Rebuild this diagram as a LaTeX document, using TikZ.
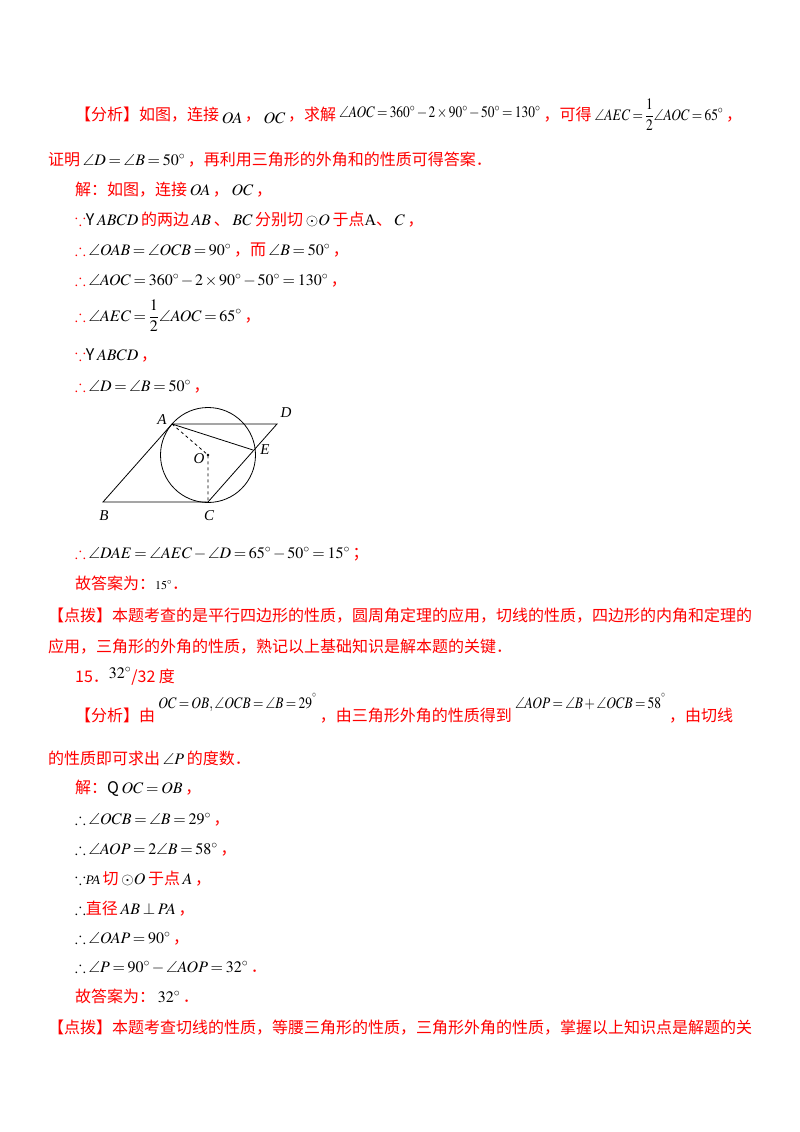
\documentclass[tikz,border=0pt]{standalone}
\usepackage{fontspec}
\usepackage{amssymb}
\usepackage{mathptmx}
\usepackage{graphicx}
\setmainfont{Noto Sans CJK SC}
\newfontfamily\tms{Liberation Serif}
\newcommand\rd[1]{\textcolor{red}{#1}}
\newcommand\dg{^\circ}
\newcommand\m[1]{\,$#1$\,}
\newcommand\nm[1]{\scalebox{0.84}[1]{$#1$}}
\thickmuskip=3mu plus 1mu
\medmuskip=2mu plus 1mu
\begin{document}
\begin{tikzpicture}[x=1pt,y=-1pt,
  ln/.style={anchor=base west,inner sep=0,font=\fontsize{16}{19}\selectfont},
  pt/.style={inner sep=0,font=\fontsize{15}{16}\selectfont\tms\itshape},
  geo/.style={line width=0.8pt}]
\fill[white] (0,0) rectangle (800,1132);
\useasboundingbox (0,0) rectangle (800,1132);
\node[ln] (l1a) at (75,120) {\rd{【分析】如图，连接}\raisebox{-3pt}{\m{OA}}\rd{，}\raisebox{-3pt}{\m{OC}}\rd{，求解}\,};
\node[ln,yshift=3pt] (l1b) at (l1a.base east) {\nm{\angle AOC=360\dg-2\times90\dg-50\dg=130\dg}};
\node[ln,yshift=-3pt] (l1c) at (l1b.base east) {\,\rd{，可得}\,};
\node[ln] (l1d) at (l1c.base east) {\nm{\displaystyle\angle AEC=\frac12\angle AOC=65\dg}\,\rd{，}};
\node[ln] (l2) at (48,165) {\rd{证明}\m{\angle D=\angle B=50\dg}\rd{，再利用三角形的外角和的性质可得答案．}};
\node[ln] (l3) at (75,195) {\rd{解：如图，连接}\m{OA}\rd{，}\m{OC}\rd{，}};
\node[ln] (l4) at (75,225) {\rd{$\because$}Y\m{ABCD}\rd{的两边}\m{AB}\rd{、}\m{BC}\rd{分别切}\m{\odot O}\rd{于点}{\tms A}\rd{、}\m{C}\rd{，}};
\node[ln] (l5) at (75,255) {\rd{$\therefore$}\m{\angle OAB=\angle OCB=90\dg}\rd{，而}\m{\angle B=50\dg}\rd{，}};
\node[ln] (l6) at (75,285) {\rd{$\therefore$}\m{\angle AOC=360\dg-2\times90\dg-50\dg=130\dg}\rd{，}};
\node[ln] (l7) at (75,321) {\rd{$\therefore$}\m{\displaystyle\angle AEC=\frac12\angle AOC=65\dg}\rd{，}};
\node[ln] (l8) at (75,360) {\rd{$\because$}Y\m{ABCD}\rd{，}};
\node[ln] (l9) at (75,391) {\rd{$\therefore$}\m{\angle D=\angle B=50\dg}\rd{，}};
% figure
\coordinate (A) at (172,424);
\coordinate (D) at (277,424);
\coordinate (B) at (103,502);
\coordinate (C) at (208,502);
\coordinate (O) at (208,455);
\coordinate (E) at (253,450);
\draw[geo] (O) circle (47.5);
\draw[geo] (A) -- (D) -- (C) -- (B) -- cycle;
\draw[geo] (A) -- (E);
\draw[geo,dashed] (A) -- (O) -- (C);
\fill (O) circle (1.3);
\node[pt] (nA) at (162,420) {A};
\node[pt] (nD) at (286,413) {D};
\node[pt] (nE) at (265,450) {E};
\node[pt] (nO) at (199,459) {O};
\node[pt] (nB) at (104,516) {B};
\node[pt] (nC) at (209,516) {C};
\node[ln] (l10) at (75,558) {\rd{$\therefore$}\m{\angle DAE=\angle AEC-\angle D=65\dg-50\dg=15\dg}\rd{；}};
\node[ln] (l11) at (75,589) {\rd{故答案为：}{\fontsize{12}{14}\selectfont$15\dg$}\rd{．}};
\node[ln] (l12) at (48,621) {\rd{【点拨】本题考查的是平行四边形的性质，圆周角定理的应用，切线的性质，四边形的内角和定理的}};
\node[ln] (l13) at (48,652) {\rd{应用，三角形的外角的性质，熟记以上基础知识是解本题的关键．}};
\node[ln] (l14) at (75,682) {\rd{15．}\raisebox{4pt}{$32\dg$}\rd{/32 度}};
\node[ln] (l15a) at (75,721) {\rd{【分析】由}\,};
\node[ln,yshift=13pt] (l15b) at (l15a.base east) {\nm{OC=OB,\angle OCB=\angle B=29^{^\circ}}};
\node[ln,yshift=-13pt] (l15c) at (l15b.base east) {\,\rd{，由三角形外角的性质得到}\,};
\node[ln,yshift=13pt] (l15d) at (l15c.base east) {\nm{\angle AOP=\angle B+\angle OCB=58^{^\circ}}};
\node[ln,yshift=-13pt] (l15e) at (l15d.base east) {\,\rd{，由切线}};
\node[ln] (l16) at (48,764) {\rd{的性质即可求出}\m{\angle P}\rd{的度数．}};
\node[ln] (l17) at (75,793) {\rd{解：}Q\m{OC=OB}\rd{，}};
\node[ln] (l18) at (75,824) {$\therefore$\m{\angle OCB=\angle B=29\dg}\rd{，}};
\node[ln] (l19) at (75,854) {$\therefore$\m{\angle AOP=2\angle B=58\dg}\rd{，}};
\node[ln] (l20) at (75,884) {$\because${\fontsize{13}{14}\selectfont\tms\itshape PA}\,\rd{切}\m{\odot O}\rd{于点}\m{A}\rd{，}};
\node[ln] (l21) at (75,914) {$\therefore$\rd{直径}\m{AB\perp PA}\rd{，}};
\node[ln] (l22) at (75,943) {$\therefore$\m{\angle OAP=90\dg}\rd{，}};
\node[ln] (l23) at (75,972) {$\therefore$\m{\angle P=90\dg-\angle AOP=32\dg}\rd{．}};
\node[ln] (l24) at (75,1002) {\rd{故答案为：}\m{32\dg}\rd{．}};
\node[ln] (l25) at (48,1033) {\rd{【点拨】本题考查切线的性质，等腰三角形的性质，三角形外角的性质，掌握以上知识点是解题的关}};
\end{tikzpicture}
\end{document}
